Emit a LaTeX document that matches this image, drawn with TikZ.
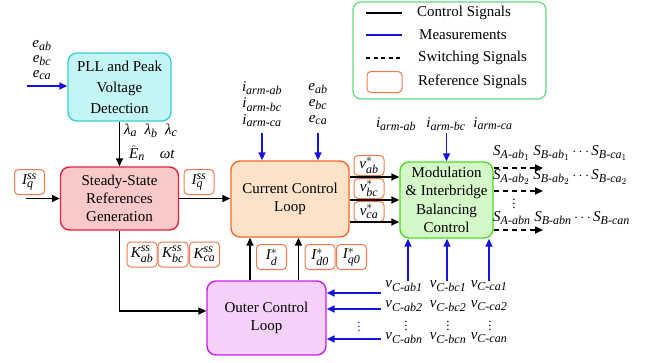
\documentclass[tikz,border=0pt]{standalone}
\usepackage{amsmath}
\usepackage{fontspec}
\setmainfont{Liberation Serif}
\usetikzlibrary{arrows.meta}
\DeclareMathSizes{15}{15}{12}{9}
% italic text-font variable, usable in math and its subscripts
\newcommand\tv[1]{\text{\itshape #1}}

\definecolor{pllfill}{HTML}{C4F5F5}
\definecolor{pllline}{HTML}{3CCFD0}
\definecolor{ssfill}{HTML}{F9C8C8}
\definecolor{ssline}{HTML}{E8203A}
\definecolor{ccfill}{HTML}{FDE2CA}
\definecolor{ccline}{HTML}{F2692C}
\definecolor{mdfill}{HTML}{D4F8C8}
\definecolor{mdline}{HTML}{4CDC22}
\definecolor{olfill}{HTML}{F5D0F8}
\definecolor{olline}{HTML}{C81EE6}
\definecolor{lgline}{HTML}{5EDC78}
\definecolor{refline}{HTML}{F27A4E}
\definecolor{measblue}{HTML}{1414DC}

\tikzset{
  blk/.style={draw, line width=1.4pt, rounded corners=9pt, align=center, inner sep=0pt},
  refbox/.style={draw=refline, line width=1pt, rounded corners=4pt, fill=white,
                 minimum width=30pt, minimum height=25pt, inner sep=0.5pt},
  ctl/.style={line width=1.6pt, -{Triangle[length=8pt,width=7pt]}},
  meas/.style={ctl, color=measblue},
  sw/.style={line width=1.6pt, dash pattern=on 5pt off 4pt, -{Triangle[length=8pt,width=7pt]}},
  lbl/.style={inner sep=0pt, align=center},
  dotcol/.style={inner sep=0pt, font=\fontsize{13}{13}\selectfont},
}

\begin{document}
\begin{tikzpicture}[x=1pt, y=-1pt, font=\fontsize{15}{18}\selectfont]
\useasboundingbox (0,0) rectangle (652,362);

% ---------- main blocks ----------
\node[blk, draw=pllline, fill=pllfill, minimum width=103pt, minimum height=68pt,
      font=\fontsize{15}{21}\selectfont] (pll) at (119.5,87) {PLL and Peak\\Voltage\\Detection};
\node[blk, draw=ssline, fill=ssfill, minimum width=118pt, minimum height=63pt] (ss) at (119.5,198.5)
      {Steady-State\\References\\Generation};
\node[blk, draw=ccline, fill=ccfill, minimum width=118pt, minimum height=76pt] (cc) at (290,199)
      {Current Control\\Loop};
\node[blk, draw=mdline, fill=mdfill, minimum width=93pt, minimum height=76pt,
      font=\fontsize{15}{18.5}\selectfont] (mod) at (446.5,200)
      {Modulation\\\& Interbridge\\Balancing\\Control};
\node[blk, draw=olline, fill=olfill, minimum width=119pt, minimum height=74pt] (ol) at (266.5,318)
      {Outer Control\\Loop};

% ---------- legend ----------
\node[draw=lgline, line width=1.2pt, rounded corners=8pt, minimum width=193pt, minimum height=97pt]
      (leg) at (449.5,50.5) {};
\coordinate (la1) at (366,13); \coordinate (lb1) at (402,13);
\coordinate (la2) at (366,35); \coordinate (lb2) at (402,35);
\coordinate (la3) at (366,58); \coordinate (lb3) at (402,58);
\draw[line width=1.4pt] (la1) -- (lb1);
\draw[line width=1.4pt, measblue] (la2) -- (lb2);
\draw[line width=1.4pt, dash pattern=on 4pt off 3.5pt] (la3) -- (lb3);
\node[refbox, minimum width=35pt, minimum height=21pt] (lref) at (384.5,82) {};
\node[lbl, anchor=west] (lt1) at (417,13) {Control Signals};
\node[lbl, anchor=west] (lt2) at (419,35) {Measurements};
\node[lbl, anchor=west] (lt3) at (418,58) {Switching Signals};
\node[lbl, anchor=west] (lt4) at (418,82) {Reference Signals};

% ---------- PLL ----------
\node[lbl, font=\fontsize{15}{15}\selectfont] (epll) at (42,60)
      {$\tv{e}_{\tv{ab}}$\\$\tv{e}_{\tv{bc}}$\\$\tv{e}_{\tv{ca}}$};
\coordinate (pin) at (27,86);
\draw[meas] (pin) -- (pin -| pll.west);
\draw[ctl] (pll.south) -- (ss.north);
\node[lbl, anchor=west] (lam) at (124,131)
      {$\tv{λ}_{\tv{a}}$\ \ $\tv{λ}_{\tv{b}}$\ \ $\tv{λ}_{\tv{c}}$};
\node[lbl, anchor=west] (enw) at (129,153) {$\hat{\tv{E}}_{\tv{n}}$\quad$\tv{ωt}$};

% ---------- steady-state references ----------
\node[refbox] (iql) at (29.5,182) {$\tv{I}^{\tv{ss}}_{\tv{q}}$};
\coordinate (iqin) at (26,198.5);
\draw[ctl] (iqin) -- (iqin -| ss.west);
\node[refbox] (iqr) at (199,182) {$\tv{I}^{\tv{ss}}_{\tv{q}}$};
\draw[ctl] (ss.east) -- (ss.east -| cc.west);
\node[refbox] (kab) at (142,254.5) {$\tv{K}^{\tv{ss}}_{\tv{ab}}$};
\node[refbox] (kbc) at (173,254.5) {$\tv{K}^{\tv{ss}}_{\tv{bc}}$};
\node[refbox] (kca) at (204.5,254.5) {$\tv{K}^{\tv{ss}}_{\tv{ca}}$};
\draw[ctl] (ss.south) |- ([yshift=7pt]ol.west);

% ---------- outer loop to current loop ----------
\draw[ctl] ([xshift=-16.5pt]ol.north) -- ([xshift=-16.5pt]ol.north |- cc.south);
\draw[ctl] ([xshift=32pt]ol.north) -- ([xshift=32pt]ol.north |- cc.south);
\node[refbox] (id) at (271.5,257) {$\tv{I}^{*}_{\tv{d}}$};
\node[refbox] (id0) at (320,257) {$\tv{I}^{*}_{\tv{d0}}$};
\node[refbox] (iq0) at (351.5,257) {$\tv{I}^{*}_{\tv{q0}}$};

% ---------- current loop measurements ----------
\node[lbl, font=\fontsize{15}{16.5}\selectfont] (iarm) at (262,104)
      {$\tv{i}_{\tv{arm-ab}}$\\$\tv{i}_{\tv{arm-bc}}$\\$\tv{i}_{\tv{arm-ca}}$};
\node[lbl, font=\fontsize{15}{16}\selectfont] (ecc) at (318,104)
      {$\tv{e}_{\tv{ab}}$\\$\tv{e}_{\tv{bc}}$\\$\tv{e}_{\tv{ca}}$};
\draw[meas] (iarm.south |- 0,133) -- (iarm.south |- cc.north);
\draw[meas] (ecc.south |- 0,133) -- (ecc.south |- cc.north);

% ---------- voltage references ----------
\node[refbox, minimum height=20pt] (vab) at (369,165.5) {$\tv{v}^{*}_{\tv{ab}}$};
\node[refbox, minimum height=20pt] (vbc) at (369,188.5) {$\tv{v}^{*}_{\tv{bc}}$};
\node[refbox, minimum height=20pt] (vca) at (369,211.5) {$\tv{v}^{*}_{\tv{ca}}$};
\draw[ctl] ([yshift=22pt]cc.east) -- ([yshift=22pt]cc.east -| mod.west);
\draw[ctl] ([yshift=-1pt]cc.east) -- ([yshift=-1pt]cc.east -| mod.west);
\draw[ctl] ([yshift=-23pt]cc.east) -- ([yshift=-23pt]cc.east -| mod.west);

% ---------- modulation inputs ----------
\node[lbl] (ia2) at (396,124) {$\tv{i}_{\tv{arm-ab}}$};
\node[lbl] (ib2) at (446,124) {$\tv{i}_{\tv{arm-bc}}$};
\node[lbl] (ic2) at (493,124) {$\tv{i}_{\tv{arm-ca}}$};
\draw[meas] (mod.north |- 0,133) -- (mod.north);

% ---------- switching signals ----------
\coordinate (s1) at (543,168);
\coordinate (s2) at (543,191);
\coordinate (s3) at (543,230);
\draw[sw] (mod.east |- s1) -- (s1);
\draw[sw] (mod.east |- s2) -- (s2);
\draw[sw] (mod.east |- s3) -- (s3);
\node[lbl, anchor=west] (sr1) at (493,153)
      {$\tv{S}_{\tv{A-ab}_{1}}$\ $\tv{S}_{\tv{B-ab}_{1}}\cdots\tv{S}_{\tv{B-ca}_{1}}$};
\node[lbl, anchor=west] (sr2) at (493,177)
      {$\tv{S}_{\tv{A-ab}_{2}}$\ $\tv{S}_{\tv{B-ab}_{2}}\cdots\tv{S}_{\tv{B-ca}_{2}}$};
\node[lbl, anchor=west] (srn) at (493,218)
      {$\tv{S}_{\tv{A-abn}}$\ $\tv{S}_{\tv{B-abn}}\cdots\tv{S}_{\tv{B-can}}$};
\node[dotcol] (sdots) at (514,201) {$\vdots$};

% ---------- capacitor voltages ----------
\node[lbl] (vc11) at (404,286) {$\tv{v}_{\tv{C-ab1}}$};
\node[lbl] (vc21) at (448,286) {$\tv{v}_{\tv{C-bc1}}$};
\node[lbl] (vc31) at (489,286) {$\tv{v}_{\tv{C-ca1}}$};
\node[lbl] (vc12) at (404,306) {$\tv{v}_{\tv{C-ab2}}$};
\node[lbl] (vc22) at (448,306) {$\tv{v}_{\tv{C-bc2}}$};
\node[lbl] (vc32) at (489,306) {$\tv{v}_{\tv{C-ca2}}$};
\node[dotcol] (vd1) at (406,323) {$\vdots$};
\node[dotcol] (vd2) at (448,323) {$\vdots$};
\node[dotcol] (vd3) at (490,323) {$\vdots$};
\node[lbl] (vc1n) at (404,338) {$\tv{v}_{\tv{C-abn}}$};
\node[lbl] (vc2n) at (448,338) {$\tv{v}_{\tv{C-bcn}}$};
\node[lbl] (vc3n) at (489,338) {$\tv{v}_{\tv{C-can}}$};
\draw[meas] ([xshift=4pt]vc11.north) -- ([xshift=4pt]vc11.north |- mod.south);
\draw[meas] ([xshift=-1pt]vc21.north) -- ([xshift=-1pt]vc21.north |- mod.south);
\draw[meas] (vc31.north) -- (vc31.north |- mod.south);

\coordinate (m1) at (381,293);
\coordinate (m2) at (381,309);
\coordinate (m3) at (381,339);
\draw[meas] (m1) -- (m1 -| ol.east);
\draw[meas] (m2) -- (m2 -| ol.east);
\draw[meas] (m3) -- (m3 -| ol.east);
\node[dotcol, text=measblue] (bd) at (359,324) {$\vdots$};
\end{tikzpicture}
\end{document}
